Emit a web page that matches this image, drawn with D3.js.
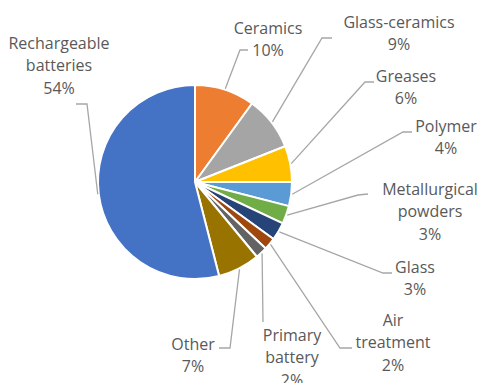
<!DOCTYPE html>
<html>
<head>
<meta charset="utf-8">
<script src="https://cdn.jsdelivr.net/npm/d3@7"></script>
<style>
  html, body { margin: 0; padding: 0; background: #fff; }
  svg { display: block; }
  .lbl { font-family: "Open Sans", sans-serif; font-size: 16px; fill: #595959; }
  .leader { fill: none; stroke: #a6a6a6; stroke-width: 1.3; }
</style>
</head>
<body>
<div id="chart"></div>
<script>
// data
var categories = ["Ceramics", "Glass-ceramics", "Greases", "Polymer", "Metallurgical powders",
                  "Glass", "Air treatment", "Primary battery", "Other", "Rechargeable batteries"]
var shares = [10, 9, 6, 4, 3, 3, 2, 2, 7, 54]
var colors = ["#ED7D31", "#A5A5A5", "#FFC000", "#5B9BD5", "#70AD47",
              "#264478", "#9E480E", "#636363", "#997300", "#4472C4"]

// label text split in lines
var labelLines = [
  ["Ceramics"], ["Glass-ceramics"], ["Greases"], ["Polymer"], ["Metallurgical", "powders"],
  ["Glass"], ["Air", "treatment"], ["Primary", "battery"], ["Other"], ["Rechargeable", "batteries"]
]

// where each label sits and where its leader line bends / ends
var labelLayout = [
  {x: 268, y: 28,  bend: [240, 50],  end: [248, 50]},
  {x: 399, y: 22,  bend: [322, 38],  end: [332, 38]},
  {x: 406, y: 76,  bend: [365, 82],  end: [374, 82]},
  {x: 446, y: 126, bend: [403, 132], end: [412, 132]},
  {x: 430, y: 189, bend: [358, 195], end: [368, 194]},
  {x: 415, y: 267, bend: [383, 273], end: [392, 273]},
  {x: 393, y: 320, bend: [340, 348], end: [352, 348]},
  {x: 292, y: 335, bend: [263, 322], end: [263, 322]},
  {x: 193, y: 344, bend: [230, 348], end: [219, 348]},
  {x: 59,  y: 43,  bend: [87, 104],  end: [76, 104]}
]

var w = 480, h = 383
var cx = 195, cy = 182, r = 97
var lineH = 22.5

var svg = d3.select("#chart").append("svg")
  .attr("width", w)
  .attr("height", h)

var pie = d3.pie().sort(null).value(function(d) { return d; })
var arcs = pie(shares)

var arc = d3.arc().innerRadius(0).outerRadius(r)
var edge = d3.arc().innerRadius(r + 1).outerRadius(r + 1)

var g = svg.append("g").attr("transform", "translate(" + cx + "," + cy + ")")

g.selectAll("path.slice")
  .data(arcs)
  .enter().append("path")
  .attr("class", "slice")
  .attr("d", arc)
  .attr("fill", function(d, i) { return colors[i]; })
  .attr("stroke", "#fff")
  .attr("stroke-width", 2)
  .attr("stroke-linejoin", "round")

var line = d3.line()

// leader lines
svg.selectAll("path.leader")
  .data(arcs)
  .enter().append("path")
  .attr("class", "leader")
  .attr("d", function(d, i) {
    var p = edge.centroid(d)
    var L = labelLayout[i]
    return line([[cx + p[0], cy + p[1]], L.bend, L.end])
  })

// labels
var lbl = svg.selectAll("text.lbl")
  .data(arcs)
  .enter().append("text")
  .attr("class", "lbl")
  .attr("text-anchor", "middle")

lbl.each(function(d, i) {
  var t = d3.select(this)
  var L = labelLayout[i]
  var rows = labelLines[i].concat([shares[i] + "%"])
  rows.forEach(function(s, k) {
    t.append("tspan")
      .attr("x", L.x)
      .attr("y", L.y + k * lineH + 5.5)
      .text(s)
  })
})
</script>
</body>
</html>
